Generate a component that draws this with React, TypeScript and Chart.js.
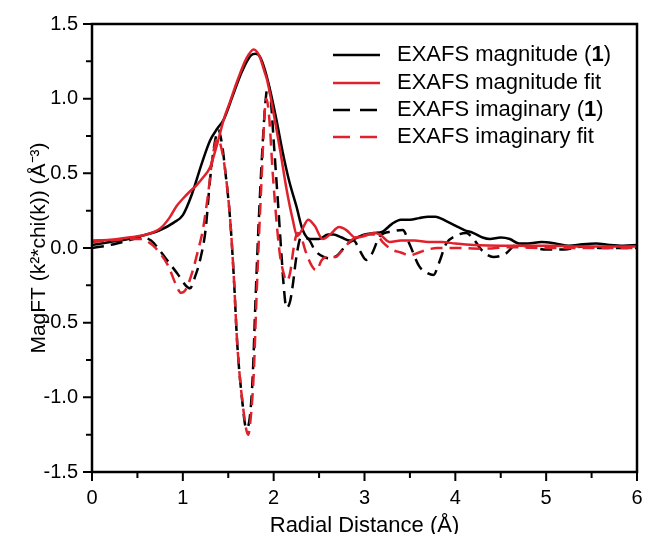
import React, { useEffect, useRef } from "react";
import { Chart, registerables } from "chart.js";

Chart.register(...registerables);

// ---- Data ----
const magExpR = [0, 0.2, 0.4, 0.6, 0.75, 0.9, 1.0, 1.1, 1.2, 1.3, 1.38, 1.45, 1.55, 1.65, 1.75, 1.8, 1.85, 1.9, 1.96, 2.03, 2.1, 2.17, 2.25, 2.32, 2.4, 2.5, 2.6, 2.66, 2.75, 2.84, 2.92, 3.0, 3.1, 3.2, 3.3, 3.4, 3.5, 3.6, 3.7, 3.78, 3.9, 4.0, 4.1, 4.2, 4.3, 4.38, 4.5, 4.6, 4.7, 4.8, 4.95, 5.1, 5.25, 5.4, 5.55, 5.7, 5.85, 6.0];
const magExpY = [0.02, 0.04, 0.06, 0.09, 0.12, 0.17, 0.22, 0.36, 0.55, 0.72, 0.8, 0.86, 1.02, 1.18, 1.29, 1.3, 1.28, 1.2, 1.06, 0.86, 0.64, 0.45, 0.28, 0.12, 0.06, 0.06, 0.09, 0.09, 0.07, 0.05, 0.07, 0.09, 0.1, 0.11, 0.16, 0.19, 0.19, 0.2, 0.21, 0.21, 0.18, 0.15, 0.12, 0.1, 0.07, 0.06, 0.07, 0.06, 0.03, 0.03, 0.04, 0.03, 0.015, 0.025, 0.03, 0.02, 0.015, 0.02];

const magFitR = [0, 0.2, 0.4, 0.6, 0.75, 0.85, 0.93, 1.0, 1.08, 1.15, 1.22, 1.3, 1.38, 1.45, 1.52, 1.6, 1.7, 1.78, 1.84, 1.9, 1.93, 2.0, 2.07, 2.14, 2.21, 2.26, 2.31, 2.38, 2.45, 2.54, 2.62, 2.72, 2.8, 2.9, 3.0, 3.1, 3.17, 3.28, 3.4, 3.55, 3.7, 3.85, 4.0, 4.2, 4.5, 5.0, 5.5, 6.0];
const magFitY = [0.05, 0.055, 0.07, 0.09, 0.13, 0.2, 0.28, 0.33, 0.38, 0.42, 0.47, 0.54, 0.7, 0.86, 0.98, 1.12, 1.27, 1.33, 1.29, 1.18, 1.12, 0.9, 0.66, 0.4, 0.19, 0.08, 0.12, 0.19, 0.15, 0.06, 0.09, 0.14, 0.12, 0.07, 0.08, 0.1, 0.09, 0.04, 0.05, 0.05, 0.04, 0.04, 0.03, 0.02, 0.015, 0.015, 0.01, 0.01];

const imExpR = [0, 0.2, 0.4, 0.55, 0.65, 0.75, 0.85, 0.95, 1.03, 1.08, 1.13, 1.19, 1.25, 1.3, 1.35, 1.39, 1.43, 1.47, 1.52, 1.56, 1.6, 1.65, 1.7, 1.74, 1.77, 1.8, 1.83, 1.87, 1.91, 1.94, 1.97, 2.0, 2.05, 2.09, 2.11, 2.14, 2.18, 2.21, 2.25, 2.3, 2.38, 2.46, 2.55, 2.62, 2.7, 2.8, 2.88, 2.95, 3.02, 3.08, 3.17, 3.3, 3.42, 3.5, 3.6, 3.7, 3.76, 3.82, 3.9, 4.0, 4.12, 4.2, 4.3, 4.42, 4.55, 4.67, 4.8, 5.0, 5.2, 5.4, 5.6, 5.8, 6.0];
const imExpY = [0.0, 0.02, 0.05, 0.07, 0.05, -0.02, -0.1, -0.18, -0.25, -0.27, -0.2, -0.08, 0.12, 0.46, 0.7, 0.79, 0.7, 0.5, 0.2, -0.18, -0.65, -1.0, -1.21, -1.12, -0.85, -0.35, 0.1, 0.6, 0.98, 1.1, 0.98, 0.72, 0.28, -0.08, -0.25, -0.4, -0.36, -0.25, -0.06, 0.07, 0.06, -0.02, -0.06, -0.07, -0.05, 0.02, 0.05, -0.02, -0.08, -0.04, 0.08, 0.11, 0.12, 0.02, -0.12, -0.17, -0.18, -0.1, 0.03, 0.08, 0.1, 0.06, -0.02, -0.06, -0.04, 0.02, 0.01, -0.01, -0.01, 0.01, 0.0, 0.0, 0.0];

const imFitR = [0, 0.2, 0.4, 0.55, 0.62, 0.7, 0.84, 0.92, 0.98, 1.03, 1.1, 1.17, 1.22, 1.28, 1.33, 1.38, 1.42, 1.47, 1.52, 1.56, 1.6, 1.66, 1.72, 1.75, 1.78, 1.81, 1.84, 1.87, 1.9, 1.92, 1.95, 1.99, 2.04, 2.07, 2.11, 2.14, 2.18, 2.22, 2.26, 2.3, 2.35, 2.42, 2.47, 2.53, 2.6, 2.68, 2.75, 2.85, 2.95, 3.05, 3.13, 3.2, 3.3, 3.4, 3.5, 3.6, 3.7, 3.8, 4.0, 4.3, 4.6, 5.0, 6.0];
const imFitY = [0.04, 0.05, 0.06, 0.06, 0.04, 0.0, -0.12, -0.24, -0.3, -0.28, -0.17, -0.01, 0.12, 0.37, 0.62, 0.73, 0.68, 0.5, 0.2, -0.18, -0.65, -1.05, -1.25, -1.12, -0.85, -0.35, 0.1, 0.5, 0.9, 1.0, 0.88, 0.5, 0.12, -0.05, -0.17, -0.22, -0.17, 0.0, 0.1, 0.08, -0.02, -0.12, -0.15, -0.08, -0.06, -0.06, -0.02, 0.05, 0.08, 0.09, 0.09, 0.04, -0.01, -0.03, -0.05, -0.03, -0.01, 0.0, 0.0, -0.005, 0.005, 0.0, 0.0];

const xTickValues = [0, 1, 2, 3, 4, 5, 6];
const yTickValues = [-1.5, -1.0, -0.5, 0.0, 0.5, 1.0, 1.5];

const legendLabels = [
  ["EXAFS magnitude (", "1", ")"],
  ["EXAFS magnitude fit", "", ""],
  ["EXAFS imaginary (", "1", ")"],
  ["EXAFS imaginary fit", "", ""],
];

const RED = "#e0212b";
const BLACK = "#000000";
const FONT = "'Liberation Sans', Arial, sans-serif";
const DASH = [12, 7];

const pts = (xs: number[], ys: number[]) => xs.map((x, i) => ({ x, y: ys[i] }));

const framePlugin = {
  id: "frameTicks",
  afterDraw(chart: any) {
    const { ctx, chartArea: a, scales } = chart;
    const xs = scales.x;
    const ys = scales.y;
    ctx.save();
    ctx.strokeStyle = "#000";
    ctx.lineWidth = 2.5;
    ctx.strokeRect(a.left, a.top, a.right - a.left, a.bottom - a.top);
    ctx.lineWidth = 2;
    ctx.beginPath();
    for (let v = 0; v <= 6.0001; v += 0.5) {
      const px = xs.getPixelForValue(v);
      const major = Math.abs(v - Math.round(v)) < 1e-6;
      ctx.moveTo(px, a.bottom);
      ctx.lineTo(px, a.bottom + (major ? 9 : 6));
    }
    for (let v = -1.5; v <= 1.5001; v += 0.25) {
      const py = ys.getPixelForValue(v);
      const major = Math.abs(v * 2 - Math.round(v * 2)) < 1e-6;
      ctx.moveTo(a.left, py);
      ctx.lineTo(a.left - (major ? 9 : 6), py);
    }
    ctx.stroke();

    // legend
    const rowY = [55, 83, 110, 137];
    const lineX0 = 333;
    const lineX1 = 380;
    const textX = 397;
    const styles = [
      { c: BLACK, d: [] as number[] },
      { c: RED, d: [] as number[] },
      { c: BLACK, d: [17, 10] },
      { c: RED, d: [17, 10] },
    ];
    ctx.textBaseline = "middle";
    ctx.textAlign = "left";
    rowY.forEach((y, i) => {
      ctx.beginPath();
      ctx.strokeStyle = styles[i].c;
      ctx.lineWidth = 2.5;
      ctx.setLineDash(styles[i].d);
      ctx.moveTo(lineX0, y);
      ctx.lineTo(lineX1, y);
      ctx.stroke();
      ctx.setLineDash([]);
      const [a1, b1, c1] = legendLabels[i];
      ctx.fillStyle = "#000";
      ctx.font = `22px ${FONT}`;
      let x = textX;
      ctx.fillText(a1, x, y);
      x += ctx.measureText(a1).width;
      if (b1) {
        ctx.font = `bold 22px ${FONT}`;
        ctx.fillText(b1, x, y);
        x += ctx.measureText(b1).width;
        ctx.font = `22px ${FONT}`;
        ctx.fillText(c1, x, y);
      }
    });
    ctx.restore();
  },
};

export default function App() {
  const ref = useRef<HTMLCanvasElement | null>(null);
  useEffect(() => {
    document.body.style.margin = "0";
    const canvas = ref.current;
    if (!canvas) return;
    const line = (label: string, xs: number[], ys: number[], color: string, dashed: boolean, order: number) => ({
      label,
      data: pts(xs, ys),
      borderColor: color,
      backgroundColor: color,
      borderWidth: 2.5,
      borderDash: dashed ? DASH : [],
      pointRadius: 0,
      fill: false,
      cubicInterpolationMode: "monotone" as const,
      order,
    });
    const chart = new Chart(canvas, {
      type: "line",
      data: {
        datasets: [
          line("EXAFS magnitude (1)", magExpR, magExpY, BLACK, false, 4),
          line("EXAFS magnitude fit", magFitR, magFitY, RED, false, 2),
          line("EXAFS imaginary (1)", imExpR, imExpY, BLACK, true, 3),
          line("EXAFS imaginary fit", imFitR, imFitY, RED, true, 1),
        ],
      },
      options: {
        responsive: false,
        animation: false,
        layout: { padding: { left: 0, right: 8, top: 24, bottom: 0 } },
        plugins: { legend: { display: false }, tooltip: { enabled: false } },
        scales: {
          x: {
            type: "linear",
            min: 0,
            max: 6,
            afterBuildTicks: (s: any) => {
              s.ticks = xTickValues.map((v) => ({ value: v }));
            },
            afterFit: (s: any) => {
              s.height = 62;
              s.paddingLeft = 0;
              s.paddingRight = 0;
            },
            grid: { display: false },
            border: { display: false },
            ticks: {
              padding: 6,
              color: "#000",
              font: { family: FONT, size: 20 },
              maxRotation: 0,
              callback: (v: any) => String(v),
            },
            title: {
              display: true,
              text: "Radial Distance (Å)",
              color: "#000",
              font: { family: FONT, size: 22 },
              padding: { top: 0, bottom: -5 },
            },
          },
          y: {
            type: "linear",
            min: -1.5,
            max: 1.5,
            afterBuildTicks: (s: any) => {
              s.ticks = yTickValues.map((v) => ({ value: v }));
            },
            afterFit: (s: any) => {
              s.width = 92;
              s.paddingTop = 0;
              s.paddingBottom = 0;
            },
            grid: { display: false },
            border: { display: false },
            ticks: {
              padding: 6,
              color: "#000",
              font: { family: FONT, size: 20 },
              callback: (v: any) => Number(v).toFixed(1),
            },
            title: {
              display: true,
              text: "MagFT (k²*chi(k)) (Å⁻³)",
              color: "#000",
              font: { family: FONT, size: 21 },
              padding: { top: 27, bottom: 0 },
            },
          },
        },
      },
      plugins: [framePlugin],
    });
    return () => chart.destroy();
  }, []);
  return (
    <div style={{ width: 645, height: 534, background: "#fff" }}>
      <canvas ref={ref} width={645} height={534} style={{ display: "block" }} />
    </div>
  );
}
